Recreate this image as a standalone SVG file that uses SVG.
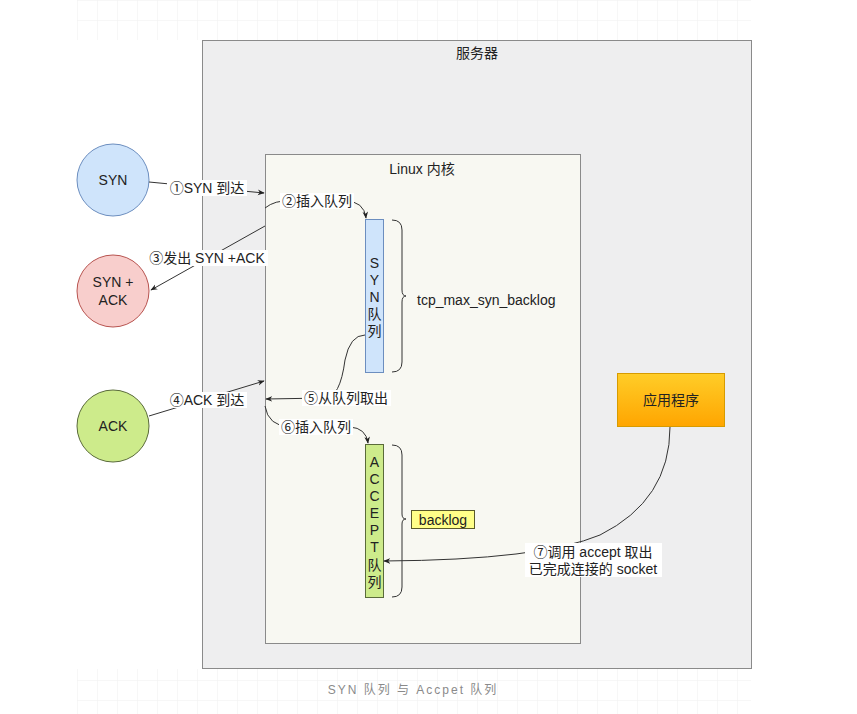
<svg xmlns="http://www.w3.org/2000/svg" width="857" height="714" viewBox="0 0 857 714">
<defs>
<pattern id="grid" width="20" height="20" patternUnits="userSpaceOnUse" x="77" y="0">
<path d="M20 0H0V20" fill="none" stroke="#f0f0f0" stroke-width="1"/>
</pattern>
<linearGradient id="orange" x1="0" y1="0" x2="0" y2="1">
<stop offset="0" stop-color="#ffcd28"/>
<stop offset="1" stop-color="#ffa500"/>
</linearGradient>
<marker id="arr" viewBox="0 0 10 10" refX="9" refY="5" markerWidth="7" markerHeight="7" orient="auto">
<path d="M0,1 L10,5 L0,9 L3,5 Z" fill="#222"/>
</marker>
<style>
text{font-family:"Liberation Sans","Noto Sans CJK SC",sans-serif;font-size:14px;fill:#222}
.c{text-anchor:middle}
.cn{fill:none;stroke:#333;stroke-width:1;marker-end:url(#arr)}
.br{fill:none;stroke:#333;stroke-width:1}
</style>
</defs>
<rect x="0" y="0" width="857" height="714" fill="#ffffff"/>
<rect x="77" y="0" width="674" height="40" fill="url(#grid)"/>
<rect x="77" y="669" width="674" height="45" fill="url(#grid)"/>

<g id="server">
<rect x="202.5" y="40.5" width="549" height="628" fill="#eeeeef" stroke="#8a8a8a"/>
<text class="c" x="477" y="58">服务器</text>
</g>
<g id="kernel">
<rect x="265.5" y="154.5" width="315" height="489" fill="#f8f8f2" stroke="#8a8a8a"/>
<text class="c" x="422" y="174">Linux 内核</text>
</g>
<g id="syn">
<circle cx="113" cy="180" r="36" fill="#cfe4fb" stroke="#6c8ebf"/>
<text class="c" x="113" y="185">SYN</text>
</g>
<g id="synack">
<circle cx="113" cy="291" r="36" fill="#f8cecc" stroke="#b85450"/>
<text class="c" x="113" y="287">SYN +</text>
<text class="c" x="113" y="305">ACK</text>
</g>
<g id="ack">
<circle cx="113" cy="426" r="36" fill="#cdeb8b" stroke="#5a6b3a"/>
<text class="c" x="113" y="431">ACK</text>
</g>
<g id="synqueue">
<rect x="365.5" y="219.5" width="18" height="153" fill="#cfe4fb" stroke="#6c8ebf"/>
<text class="c" x="374.5" y="268">S</text>
<text class="c" x="374.5" y="285">Y</text>
<text class="c" x="374.5" y="302">N</text>
<text class="c" x="374.5" y="319">队</text>
<text class="c" x="374.5" y="336">列</text>
</g>
<g id="synbrace">
<path class="br" d="M392,220 Q402,220 402,230 V290 Q402,296 406,296 Q402,296 402,302 V362 Q402,372 392,372"/>
<text x="417" y="305">tcp_max_syn_backlog</text>
</g>
<g id="acceptqueue">
<rect x="365.5" y="444.5" width="18" height="153" fill="#cdeb8b" stroke="#5a6b3a"/>
<text class="c" x="374.5" y="467">A</text>
<text class="c" x="374.5" y="484">C</text>
<text class="c" x="374.5" y="501">C</text>
<text class="c" x="374.5" y="518">E</text>
<text class="c" x="374.5" y="535">P</text>
<text class="c" x="374.5" y="552">T</text>
<text class="c" x="374.5" y="570">队</text>
<text class="c" x="374.5" y="587">列</text>
</g>
<g id="acceptbrace">
<path class="br" d="M392,445 Q402,445 402,455 V514 Q402,519 406,519 Q402,519 402,524 V587 Q402,597 392,597"/>
<rect x="411.5" y="510.5" width="63" height="18" fill="#ffff88" stroke="#5a5a2a"/>
<text class="c" x="443" y="524.5">backlog</text>
</g>
<g id="app">
<rect x="617.5" y="373.5" width="107" height="53" fill="url(#orange)" stroke="#d79b00"/>
<text class="c" x="671" y="405">应用程序</text>
</g>

<g id="connectors">
<path class="cn" d="M149,182 L264,193"/>
<path class="cn" d="M265,208 Q275,200 290,201 L345,201 Q364,201 366,218"/>
<path class="cn" d="M265,226 L151,290"/>
<path class="cn" d="M149,416 L264,381"/>
<path class="cn" d="M365,335 Q350,335 345,360 Q340,398 325,398 L266,399"/>
<path class="cn" d="M265,406 Q268,426 290,427 L350,427 Q366,428 368,443"/>
<path class="cn" d="M670,427 Q670,500 600,535 Q540,560 384,561"/>
</g>
<g id="labels">
<rect x="167" y="180" width="80" height="16" fill="#ffffff"/>
<text class="c" x="207" y="193">①SYN 到达</text>
<rect x="280" y="193" width="74" height="16" fill="#ffffff"/>
<text class="c" x="317" y="206">②插入队列</text>
<rect x="146" y="250" width="122" height="16" fill="#ffffff"/>
<text class="c" x="207" y="263">③发出 SYN +ACK</text>
<rect x="167" y="392" width="80" height="16" fill="#ffffff"/>
<text class="c" x="207" y="405">④ACK 到达</text>
<rect x="302" y="390" width="89" height="16" fill="#ffffff"/>
<text class="c" x="346" y="403">⑤从队列取出</text>
<rect x="279" y="419" width="74" height="16" fill="#ffffff"/>
<text class="c" x="316" y="432">⑥插入队列</text>
<rect x="525" y="543" width="137" height="34" fill="#ffffff"/>
<text class="c" x="593" y="557">⑦调用 accept 取出</text>
<text class="c" x="593" y="574">已完成连接的 socket</text>
</g>
<text class="c" x="413" y="694" style="font-size:12px;fill:#8a8a8a;letter-spacing:2px">SYN 队列 与 Accpet 队列</text>
</svg>
